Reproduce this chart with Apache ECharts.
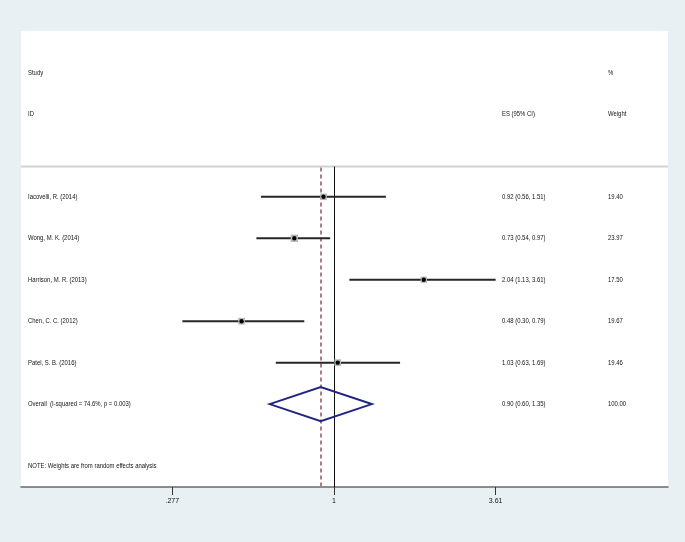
<!DOCTYPE html>
<html>
<head>
<meta charset="utf-8">
<script src="https://cdn.jsdelivr.net/npm/echarts@6/dist/echarts.min.js"></script>
<style>
html,body{margin:0;padding:0;background:#e9f0f3;}
#c{width:685px;height:542px;}
</style>
</head>
<body>
<div id="c"></div>
<script>
// ---- data ----
const studies = ['Iacovelli, R. (2014)', 'Wong, M. K. (2014)', 'Harrison, M. R. (2013)', 'Chen, C. C. (2012)', 'Patel, S. B. (2016)'];
const es = [0.92, 0.73, 2.04, 0.48, 1.03];
const ciLow = [0.56, 0.54, 1.13, 0.30, 0.63];
const ciHigh = [1.51, 0.97, 3.61, 0.79, 1.69];
const weights = [19.40, 23.97, 17.50, 19.67, 19.46];
const overallLabel = 'Overall  (I-squared = 74.6%, p = 0.003)';
const overallES = 0.90, overallLow = 0.60, overallHigh = 1.35, overallWeight = 100.00;
const tickValues = [0.277, 1, 3.61];
const tickLabels = ['.277', '1', '3.61'];
const noteText = 'NOTE: Weights are from random effects analysis';

// ---- layout (rows in y units) ----
const FONT = "'Liberation Sans', Arial, sans-serif";
const FS = 7.8;
const SX = 0.76;
const TXT = '#141414';
const rowStudy = 1, rowID = 2, rowSep = 3.27, rowFirst = 4, rowOverall = 9, rowNote = 10.5, rowMax = 11;
const base = 3.61;
const xMin = Math.pow(base, -1.936), xMax = Math.pow(base, 2.066);
const colES = 502, colW = 608, colName = 28;

const fmt = v => v.toFixed(2);

const chart = echarts.init(document.getElementById('c'), null, {renderer: 'canvas'});

// text rows
const textRows = [];
textRows.push({x: colName, y: rowStudy, t: 'Study'});
textRows.push({x: colW, y: rowStudy, t: '%'});
textRows.push({x: colName, y: rowID, t: 'ID'});
textRows.push({x: colES, y: rowID, t: 'ES (95% CI)'});
textRows.push({x: colW, y: rowID, t: 'Weight'});
studies.forEach((s, i) => {
  const r = rowFirst + i;
  textRows.push({x: colName, y: r, t: s});
  textRows.push({x: colES, y: r, t: fmt(es[i]) + ' (' + fmt(ciLow[i]) + ', ' + fmt(ciHigh[i]) + ')'});
  textRows.push({x: colW, y: r, t: fmt(weights[i])});
});
textRows.push({x: colName, y: rowOverall, t: overallLabel});
textRows.push({x: colES, y: rowOverall, t: fmt(overallES) + ' (' + fmt(overallLow) + ', ' + fmt(overallHigh) + ')'});
textRows.push({x: colW, y: rowOverall, t: fmt(overallWeight)});
textRows.push({x: colName, y: rowNote, t: noteText});

const studyData = studies.map((s, i) => [es[i], rowFirst + i, ciLow[i], ciHigh[i], weights[i]]);

const option = {
  backgroundColor: '#e9f0f3',
  animation: false,
  grid: {left: 21, right: 17, top: 31, bottom: 55, show: true, backgroundColor: '#ffffff', borderWidth: 0},
  xAxis: {
    type: 'log', logBase: base, min: xMin, max: xMax, position: 'bottom',
    axisLine: {show: true, onZero: false, lineStyle: {color: '#6a6a6a', width: 1.5}},
    axisTick: {show: true, inside: false, length: 8, customValues: tickValues, lineStyle: {color: '#333', width: 1}},
    axisLabel: {show: true, customValues: tickValues, margin: 11, fontSize: 7, color: TXT, fontFamily: FONT,
      formatter: v => { const k = tickValues.findIndex(t => Math.abs(t - v) < 1e-6); return k >= 0 ? tickLabels[k] : ''; }},
    splitLine: {show: false}
  },
  yAxis: {type: 'value', min: 0, max: rowMax, inverse: true, show: false},
  series: [
    { // separator, reference lines
      type: 'custom', silent: true, z: 1,
      data: [[0]],
      renderItem: function (params, api) {
        const cs = params.coordSys;
        const ySep = api.coord([1, rowSep])[1];
        const yBot = api.coord([1, rowMax])[1];
        const x1 = Math.round(api.coord([1, rowSep])[0]) + 0.5;
        const xo = Math.round(api.coord([overallES, rowSep])[0]);
        return {type: 'group', children: [
          {type: 'line', shape: {x1: cs.x, y1: ySep, x2: cs.x + cs.width, y2: ySep}, style: {stroke: '#d2d2d2', lineWidth: 2}},
          {type: 'line', shape: {x1: x1, y1: ySep, x2: x1, y2: yBot}, style: {stroke: '#111', lineWidth: 1}},
          {type: 'line', shape: {x1: xo, y1: ySep + 1, x2: xo, y2: yBot}, style: {stroke: '#b27a82', lineWidth: 2, lineDash: [4, 3]}}
        ]};
      }
    },
    { // study CIs and squares
      type: 'custom', silent: true, z: 3,
      data: studyData,
      renderItem: function (params, api) {
        const p = api.coord([api.value(0), api.value(1)]);
        const a = api.coord([api.value(2), api.value(1)]);
        const b = api.coord([api.value(3), api.value(1)]);
        const sz = Math.sqrt(api.value(4)) * 1.5;
        return {type: 'group', children: [
          {type: 'line', shape: {x1: a[0], y1: a[1], x2: b[0], y2: b[1]}, style: {stroke: '#262626', lineWidth: 2}},
          {type: 'rect', shape: {x: p[0] - sz / 2, y: p[1] - sz / 2, width: sz, height: sz}, style: {fill: '#b8b8b8'}},
          {type: 'circle', shape: {cx: p[0], cy: p[1], r: 2.2}, style: {fill: '#000'}}
        ]};
      }
    },
    { // overall diamond
      type: 'custom', silent: true, z: 4,
      data: [[overallES, rowOverall, overallLow, overallHigh]],
      renderItem: function (params, api) {
        const c = api.coord([api.value(0), api.value(1)]);
        const l = api.coord([api.value(2), api.value(1)]);
        const r = api.coord([api.value(3), api.value(1)]);
        const h = api.size([0, 0.41])[1];
        return {type: 'polygon', shape: {points: [[l[0], c[1]], [c[0], c[1] - h], [r[0], c[1]], [c[0], c[1] + h]]},
          style: {fill: 'none', stroke: '#1f2580', lineWidth: 2}};
      }
    },
    { // text
      type: 'custom', silent: true, z: 5,
      data: textRows.map(d => [1, d.y, d.x, d.t]),
      renderItem: function (params, api) {
        const d = textRows[params.dataIndex];
        const y = api.coord([1, d.y])[1];
        return {type: 'text', x: d.x, y: y, scaleX: SX, style: {text: d.t, fill: TXT, font: FS + 'px ' + FONT, verticalAlign: 'middle', align: 'left'}};
      }
    }
  ]
};
chart.setOption(option);
</script>
</body>
</html>
